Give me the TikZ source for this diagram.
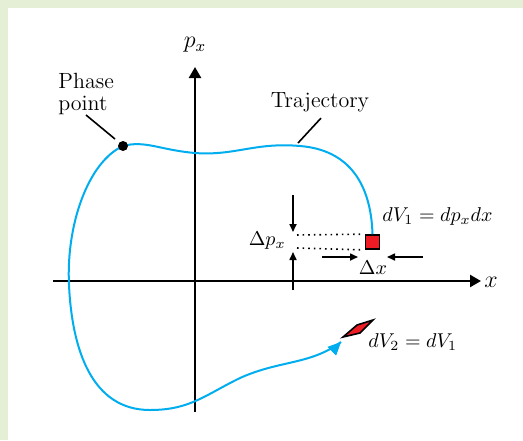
\documentclass[tikz,border=0pt]{standalone}
\usetikzlibrary{arrows.meta}
\definecolor{panelgreen}{RGB}{229,239,213}
\definecolor{trajblue}{RGB}{0,174,239}
\definecolor{cellred}{RGB}{237,28,36}
\begin{document}
\begin{tikzpicture}[
    x=0.5pt, y=-0.5pt,
    axis/.style={line width=1.2pt, -{Triangle[length=5.5pt,width=6pt]}},
    traj/.style={trajblue, line width=1pt},
    leader/.style={line width=0.8pt},
    delta/.style={line width=0.8pt, -{Triangle[length=4pt,width=3.5pt]}},
    lbl/.style={font=\normalsize, inner sep=1pt},
    txt/.style={font=\fontsize{11}{11}\selectfont, inner sep=1pt}
  ]
    % --- panel ---
    \fill[panelgreen] (0,0) rectangle (523,440);
    \fill[white] (8,8) rectangle (523,440);
    \useasboundingbox (0,0) rectangle (523,440);

    % --- axes ---
    \coordinate (xstart) at (53,281);
    \coordinate (xtip) at (481,281);
    \coordinate (pstart) at (195,412);
    \coordinate (ptip) at (195,67);
    \draw[axis] (xstart) -- (xtip);
    \draw[axis] (pstart) -- (ptip);
    \node[lbl, font=\large] (xlabel) at (491,282) {$x$};
    \node[lbl, font=\large] (plabel) at (195,45) {$p_x$};

    % --- initial cell dV1 ---
    \node[draw=black, line width=0.8pt, fill=cellred, minimum size=7pt, inner sep=0pt] (cell1) at (372.5,242) {};
    \coordinate (dpTop) at (297,235);
    \coordinate (dpBot) at (297,248);
    \draw[dotted, line width=0.8pt] (dpTop) -- ([xshift=-2pt]cell1.north west);
    \draw[dotted, line width=0.8pt] (dpBot) -- ([xshift=-2pt]cell1.south west);
    \coordinate (downStart) at (293,195);
    \coordinate (downTip) at (293,232);
    \coordinate (upStart) at (293,290);
    \coordinate (upTip) at (293,252);
    \draw[delta] (downStart) -- (downTip);
    \draw[delta] (upStart) -- (upTip);
    \coordinate (leftStart) at (322,257);
    \coordinate (leftTip) at (358,257);
    \coordinate (rightStart) at (423,257);
    \coordinate (rightTip) at (387,257);
    \draw[delta] (leftStart) -- (leftTip);
    \draw[delta] (rightStart) -- (rightTip);
    \node[lbl, anchor=east] (dplabel) at (288,241) {$\Delta p_x$};
    \node[lbl] (dxlabel) at (373,268) {$\Delta x$};
    \node[lbl, anchor=west] (dv1label) at (380,216) {$dV_1 = dp_x dx$};

    % --- trajectory ---
    \coordinate (phase) at (123,146);
    \coordinate (trajend) at (341,342);
    \draw[traj] (cell1.north) .. controls (371,185) and (350,150) .. (300,146)
      .. controls (255,142) and (235,156) .. (195,153)
      .. controls (160,150) and (145,140) .. (phase)
      .. controls (88,162) and (66,225) .. (69,285)
      .. controls (72,350) and (92,410) .. (150,410)
      .. controls (190,410) and (205,395) .. (240,378)
      .. controls (280,360) and (310,365) .. (trajend);
    \draw[trajblue, -{Triangle[length=6.5pt,width=6pt]}] ([shift={(-2,2)}]trajend) -- (trajend);
    \fill (phase) circle (2.5pt);

    % --- evolved cell dV2 ---
    \draw[fill=cellred, line width=0.8pt, line join=miter] (343,337) -- (357,325) -- (373,320) -- (360,333) -- cycle;
    \node[lbl, anchor=west] (dv2label) at (366,342) {$dV_2 = dV_1$};

    % --- labels with leaders ---
    \node[txt, align=left, anchor=north west] (phaselabel) at (56,71) {Phase\\point};
    \coordinate (phaseleader) at (86,115);
    \draw[leader] (phaseleader) -- (115,139);
    \node[txt] (trajlabel) at (320,102) {Trajectory};
    \draw[leader] (trajlabel.south) ++(1,4) -- (298,143);
  \end{tikzpicture}
\end{document}
